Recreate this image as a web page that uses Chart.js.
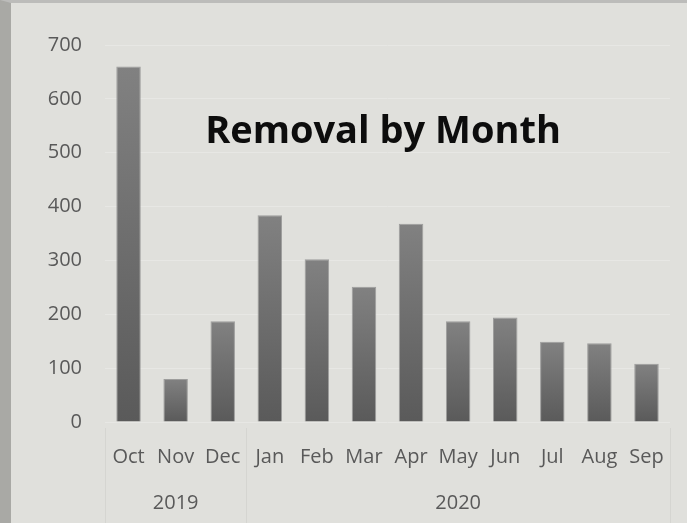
<!DOCTYPE html>
<html>
<head>
<meta charset="utf-8">
<script src="https://cdn.jsdelivr.net/npm/chart.js@4"></script>
<style>
  html, body { margin: 0; padding: 0; background: #e0e0dc; overflow: hidden; }
  #wrap { position: absolute; left: 0; top: 0; width: 676px; height: 520px;
          border-left: 11px solid #a9a9a5; border-top: 3px solid #bcbcba; }
  canvas { display: block; }
</style>
</head>
<body>
<div id="wrap"><canvas id="c" width="676" height="520"></canvas></div>
<script>
const months = ["Oct","Nov","Dec","Jan","Feb","Mar","Apr","May","Jun","Jul","Aug","Sep"];
const years = ["2019","2019","2019","2020","2020","2020","2020","2020","2020","2020","2020","2020"];
const removals = [660, 80, 187, 384, 302, 251, 368, 187, 194, 149, 146, 108];
const yMin = 0, yMax = 700, yStep = 100;
const titleText = "Removal by Month";

const FONT = "'Open Sans', 'DejaVu Sans', sans-serif";

function barGradient(ctx) {
  const chart = ctx.chart;
  if (!chart.chartArea || ctx.type !== 'data') return '#707070';
  const y = chart.scales.y;
  const top = y.getPixelForValue(ctx.raw);
  const base = y.getPixelForValue(0);
  if (!isFinite(top) || !isFinite(base) || base - top < 1) return '#707070';
  const g = chart.ctx.createLinearGradient(0, top, 0, base);
  g.addColorStop(0, '#818181');
  g.addColorStop(1, '#5a5a5a');
  return g;
}

const overlayPlugin = {
  id: 'overlay',
  afterDraw(chart) {
    const { ctx, chartArea, scales } = chart;
    const x = scales.x;
    ctx.save();
    // title inside plot area
    ctx.fillStyle = '#0d0d0d';
    ctx.font = "bold 38px " + FONT;
    ctx.textAlign = 'center';
    ctx.textBaseline = 'middle';
    ctx.fillText(titleText, 372, 129);

    // year groups
    const half = (x.getPixelForValue(1) - x.getPixelForValue(0)) / 2;
    const groups = [];
    years.forEach((yr, i) => {
      const last = groups[groups.length - 1];
      if (last && last.label === yr) last.end = i; else groups.push({ label: yr, start: i, end: i });
    });
    ctx.strokeStyle = 'rgba(200,200,196,0.45)';
    ctx.lineWidth = 1;
    const lineTop = chartArea.bottom + 6;
    const lineBot = chart.height;
    const bounds = new Set();
    groups.forEach(g => {
      bounds.add(Math.round(x.getPixelForValue(g.start) - half) + 0.5);
      bounds.add(Math.round(x.getPixelForValue(g.end) + half) + 0.5);
    });
    bounds.forEach(bx => {
      ctx.beginPath(); ctx.moveTo(bx, lineTop); ctx.lineTo(bx, lineBot); ctx.stroke();
    });
    ctx.fillStyle = '#595959';
    ctx.font = "20px " + FONT;
    groups.forEach(g => {
      const cx = (x.getPixelForValue(g.start) + x.getPixelForValue(g.end)) / 2;
      ctx.fillText(g.label, cx, 500);
    });
    ctx.restore();
  }
};

new Chart(document.getElementById('c'), {
  type: 'bar',
  data: {
    labels: months,
    datasets: [{
      data: removals,
      backgroundColor: barGradient,
      borderColor: 'rgba(140,140,140,0.8)',
      borderWidth: 1,
      borderSkipped: 'bottom',
      barPercentage: 0.52,
      categoryPercentage: 1.0
    }]
  },
  options: {
    responsive: false,
    animation: false,
    devicePixelRatio: 1,
    layout: { padding: { top: 42, right: 7, left: 0, bottom: 0 } },
    plugins: { legend: { display: false }, title: { display: false }, tooltip: { enabled: false } },
    scales: {
      x: {
        grid: { display: false, drawTicks: false },
        border: { display: false },
        ticks: { color: '#595959', font: { family: FONT, size: 20 }, padding: 23, maxRotation: 0, autoSkip: false },
        afterFit(s) { s.height = 101; }
      },
      y: {
        min: yMin, max: yMax,
        grid: { color: 'rgba(231,231,228,1)', drawTicks: false },
        border: { display: false },
        ticks: { stepSize: yStep, color: '#595959', font: { family: FONT, size: 20 }, padding: 23 },
        afterFit(s) { s.width = 94; }
      }
    }
  },
  plugins: [overlayPlugin]
});
</script>
</body>
</html>
